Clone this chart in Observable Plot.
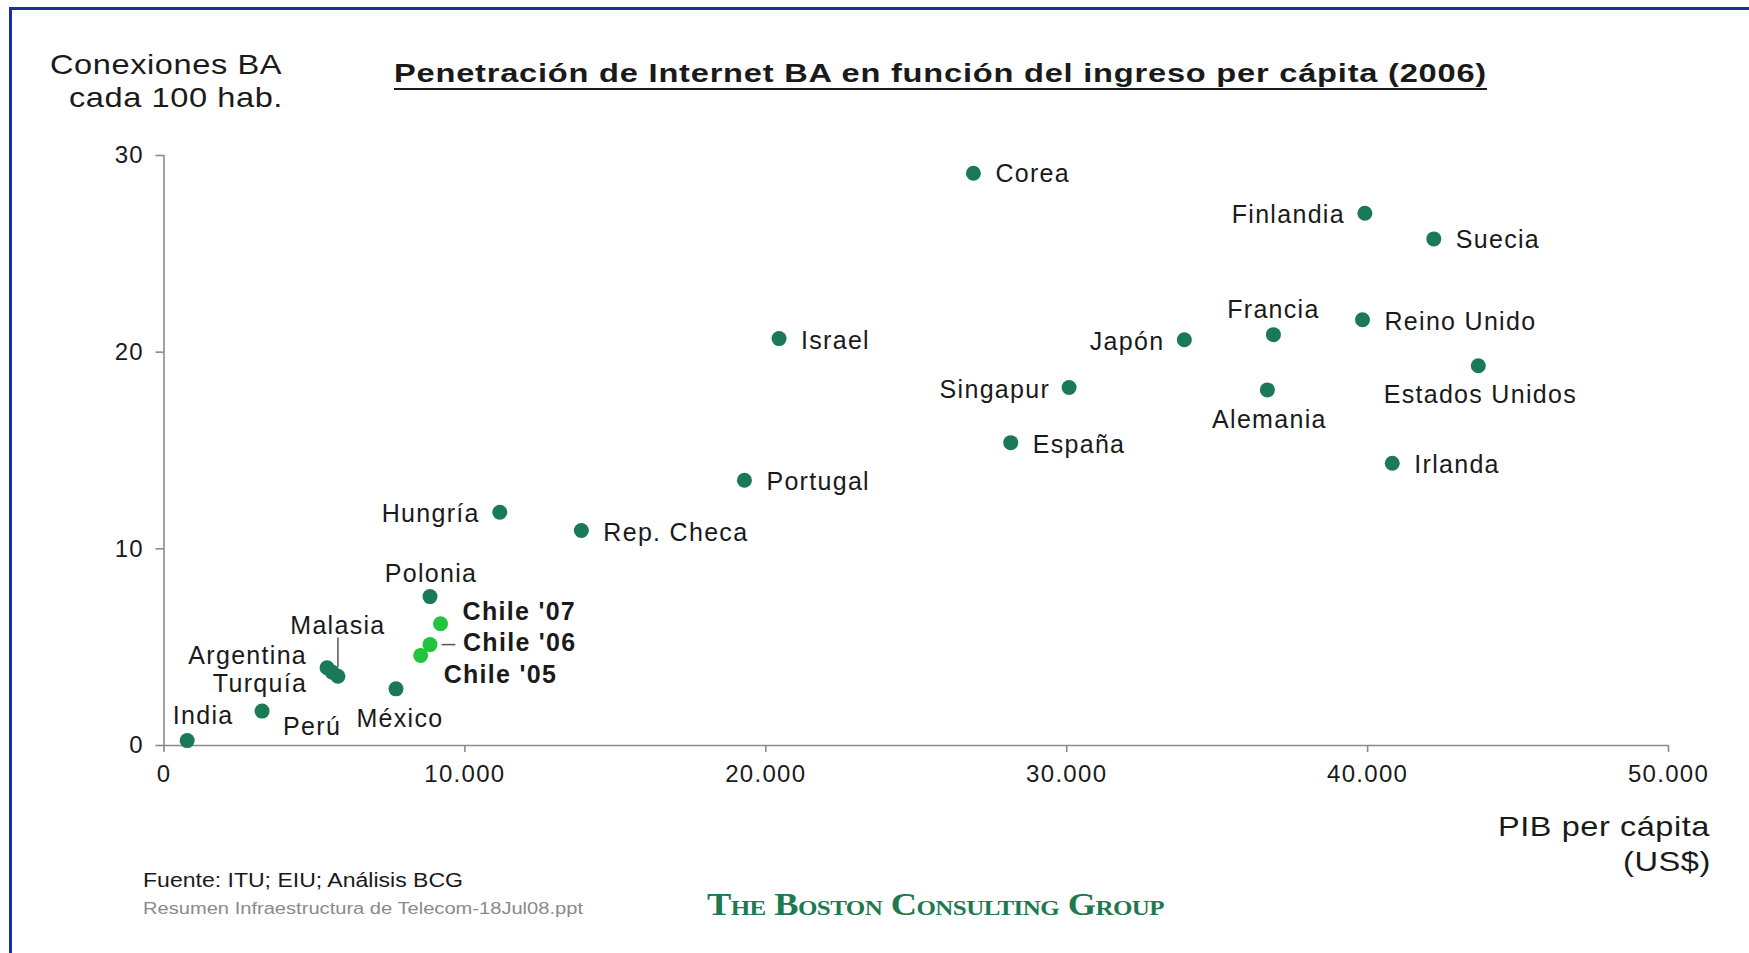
<!DOCTYPE html>
<html>
<head>
<meta charset="utf-8">
<script src="https://cdn.jsdelivr.net/npm/d3@7"></script>
<script src="https://cdn.jsdelivr.net/npm/@observablehq/plot@0.6"></script>
<style>
  html, body { margin: 0; padding: 0; background: #fff; }
  #wrap { position: relative; width: 1749px; height: 953px; overflow: hidden; background: #fff; }
  #wrap svg { position: absolute; left: 0; top: 0; }
  .t { position: absolute; white-space: nowrap; line-height: 1; font-family: "Liberation Sans", Arial, sans-serif; transform-origin: 0 50%; }
  .border-top { position: absolute; left: 9px; right: 0; top: 7px; height: 3px; background: #1a2f9e; }
  .border-left { position: absolute; left: 9px; top: 7px; bottom: 0; width: 3px; background: #1a2f9e; }
</style>
</head>
<body>
<div id="wrap">
  <div class="border-top"></div>
  <div class="border-left"></div>
</div>
<script>
// ---- Data ----
const countries = ["India", "Perú", "Argentina", "Turquía", "Malasia", "México",
  "Chile '05", "Chile '06", "Chile '07", "Polonia", "Hungría", "Rep. Checa",
  "Portugal", "Israel", "Corea", "España", "Singapur", "Japón", "Alemania",
  "Francia", "Reino Unido", "Finlandia", "Irlanda", "Suecia", "Estados Unidos"];
const pibPerCapita = [770, 3260, 5420, 5590, 5780, 7710,
  8530, 8840, 9190, 8840, 11160, 13870,
  19290, 20440, 26900, 28140, 30080, 33910, 36670,
  36870, 39830, 39910, 40820, 42200, 43680];
const conexionesBA = [0.25, 1.75, 3.95, 3.73, 3.52, 2.88,
  4.58, 5.13, 6.19, 7.57, 11.86, 10.93,
  13.49, 20.69, 29.1, 15.4, 18.2, 20.63, 18.08,
  20.89, 21.65, 27.06, 14.35, 25.76, 19.31];
const grupo = countries.map(c => c.startsWith("Chile") ? "Chile" : "Otros");
const xTicks = [0, 10000, 20000, 30000, 40000, 50000];
const yTicks = [0, 10, 20, 30];

// ---- Label placement (styling only) ----
const labelPlacement = {
  "India": ["middle", 16, -25],
  "Perú": ["middle", 50, 16],
  "Argentina": ["end", -20, -12],
  "Turquía": ["end", -25, 12],
  "Malasia": ["middle", 0, -50],
  "México": ["middle", 4, 30],
  "Chile '05": ["start", 23, 20],
  "Chile '06": ["start", 33, -2],
  "Chile '07": ["start", 22, -12],
  "Polonia": ["middle", 1, -23],
  "Hungría": ["end", -20, 2],
  "Rep. Checa": ["start", 22, 2],
  "Portugal": ["start", 22, 2],
  "Israel": ["start", 22, 2],
  "Corea": ["start", 22, 1],
  "España": ["start", 22, 2],
  "Singapur": ["end", -19, 2],
  "Japón": ["end", -20, 2],
  "Alemania": ["middle", 2, 30],
  "Francia": ["middle", 0, -25],
  "Reino Unido": ["start", 22, 2],
  "Finlandia": ["end", -20, 2],
  "Irlanda": ["start", 22, 2],
  "Suecia": ["start", 22, 1],
  "Estados Unidos": ["middle", 2, 29]
};

const rows = countries.map((c, i) => ({pais: c, pib: pibPerCapita[i], ba: conexionesBA[i], grupo: grupo[i]}));
const colors = {Chile: "#22c43e", Otros: "#1a7a55"};

const locale = d3.formatLocale({decimal: ",", thousands: ".", grouping: [3], currency: ["", ""]});
const fmt = locale.format(",");

const labelMarks = rows.map(r => {
  const [anchor, dx, dy] = labelPlacement[r.pais];
  return Plot.text([r], {
    x: "pib", y: "ba", text: "pais",
    textAnchor: anchor, dx, dy,
    fontSize: 25,
    fontWeight: r.grupo === "Chile" ? "bold" : "normal",
    fill: "#1a1a1a"
  });
});

const chart = Plot.plot({
  width: 1749,
  height: 953,
  marginLeft: 163.5,
  marginRight: 81,
  marginTop: 155,
  marginBottom: 208,
  x: {domain: [0, 50000]},
  y: {domain: [0, 30]},
  style: {
    fontFamily: "'Liberation Sans', Arial, sans-serif",
    fontSize: "24px",
    color: "#1a1a1a",
    background: "transparent",
    letterSpacing: "1.3px",
    overflow: "visible"
  },
  marks: [
    Plot.ruleY([0], {stroke: "#8a8a8a", strokeWidth: 1.6}),
    Plot.ruleX([0], {stroke: "#8a8a8a", strokeWidth: 1.6}),
    Plot.axisX({ticks: xTicks, tickFormat: fmt, tickSize: 7, tickPadding: 12, stroke: "#8a8a8a", strokeWidth: 1.6, fontSize: 24, label: null}),
    Plot.axisY({ticks: yTicks, tickSize: 8, tickPadding: 12, stroke: "#8a8a8a", strokeWidth: 1.6, fontSize: 24, label: null}),
    // leader lines
    Plot.ruleX(rows.filter(r => r.pais === "Malasia"), {x: "pib", y1: r => r.ba + 0.45, y2: r => r.ba + 1.95, stroke: "#555", strokeWidth: 1.5}),
    Plot.ruleY(rows.filter(r => r.pais === "Chile '06"), {y: "ba", x1: r => r.pib + 400, x2: r => r.pib + 860, stroke: "#555", strokeWidth: 1.5}),
    Plot.dot(rows, {x: "pib", y: "ba", r: 7.5, fill: r => colors[r.grupo], stroke: "none"}),
    ...labelMarks
  ]
});
const wrap = document.getElementById("wrap");
wrap.appendChild(chart);

// ---- HTML texts (stretched horizontally to the reference widths) ----
function place(text, o) {
  const el = document.createElement("div");
  el.className = "t";
  el.textContent = text;
  el.style.fontSize = o.size + "px";
  if (o.weight) el.style.fontWeight = o.weight;
  if (o.family) el.style.fontFamily = o.family;
  if (o.variant) el.style.fontVariant = o.variant;
  if (o.spacing) el.style.letterSpacing = o.spacing + "px";
  el.style.color = o.color || "#1a1a1a";
  if (o.underline) {
    el.style.textDecoration = "underline";
    el.style.textDecorationThickness = "2px";
    el.style.textUnderlineOffset = "6px";
    el.style.textDecorationSkipInk = "none";
  }
  wrap.appendChild(el);
  const natural = el.getBoundingClientRect().width;
  const target = o.right - o.left;
  el.style.left = o.left + "px";
  el.style.top = (o.cy - o.size * 0.55) + "px";
  el.style.transform = "scaleX(" + (target / natural) + ")";
  return el;
}

place("Conexiones BA", {left: 50, right: 282, cy: 66, size: 28, spacing: 0.5});
place("cada 100 hab.", {left: 69, right: 283, cy: 99, size: 28, spacing: 0.5});
place("Penetración de Internet BA en función del ingreso per cápita (2006)", {left: 394, right: 1487, cy: 75, size: 25, weight: "bold", spacing: 0.6, underline: true});
place("PIB per cápita", {left: 1498, right: 1710, cy: 828, size: 28, spacing: 0.5});
place("(US$)", {left: 1623, right: 1711, cy: 863, size: 28, spacing: 0.5});
place("Fuente: ITU; EIU; Análisis BCG", {left: 143, right: 463, cy: 881, size: 20});
place("Resumen Infraestructura de Telecom-18Jul08.ppt", {left: 143, right: 583, cy: 910, size: 16, color: "#8a8a8a"});
place("The Boston Consulting Group", {left: 707, right: 1164, cy: 906, size: 32, weight: "bold", family: "'Liberation Serif', 'DejaVu Serif', serif", variant: "small-caps", color: "#1d7a4f", spacing: -0.5});
</script>
</body>
</html>
